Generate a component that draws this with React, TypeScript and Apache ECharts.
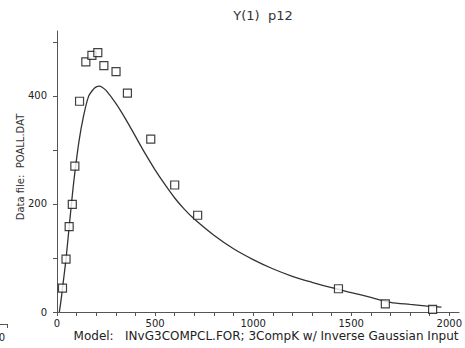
import React, { useEffect, useRef } from "react";
import * as echarts from "echarts";

// Observed concentrations (time, Y(1))
const obsTime = [28, 46, 62, 78, 91, 115, 147, 178, 208, 239, 301, 359, 478, 600, 717, 1435, 1674, 1915];
const obsValue = [44, 98, 158, 199, 270, 390, 463, 475, 480, 456, 445, 405, 320, 235, 179, 43, 15, 5];

// Fitted model curve (time, Y(1))
const fitTime = [12, 20, 30, 45, 60, 75, 90, 113, 135, 161, 185, 200, 215, 230, 250, 300, 350, 400, 450, 500, 550, 600, 650, 700, 800, 900, 1000, 1100, 1200, 1300, 1400, 1500, 1600, 1700, 1800, 1900, 1960];
const fitValue = [0, 20, 50, 95, 150, 205, 255, 318, 362, 399, 412, 416.5, 418, 416, 410, 386, 357, 325, 293, 263, 236, 211, 190, 172, 142, 117, 97, 80, 66, 55, 45, 36, 27, 18, 14, 10.5, 9];

const xTicks = [0, 100, 200, 300, 400, 500, 600, 700, 800, 900, 1000, 1100, 1200, 1300, 1400, 1500, 1600, 1700, 1800, 1900, 2000];
const xTickLabels = [0, 500, 1000, 1500, 2000];
const yTicks = [0, 100, 200, 300, 400, 500];
const yTickLabels = [0, 200, 400];

const FONT = "DejaVu Sans";
const NB = "\u00a0";

export default function App() {
  const ref = useRef<HTMLDivElement>(null);

  useEffect(() => {
    if (!ref.current) return;
    const chart = echarts.init(ref.current, undefined, { renderer: "svg" });
    chart.setOption({
      animation: false,
      backgroundColor: "#ffffff",
      grid: { left: 57, right: 5, top: 31, bottom: 36, containLabel: false },
      xAxis: {
        type: "value",
        min: 0,
        max: 2050,
        interval: 100,
        axisLine: { lineStyle: { color: "#555", width: 1 } },
        axisTick: { customValues: xTicks, length: 4, lineStyle: { color: "#555" } },
        axisLabel: {
          customValues: xTickLabels,
          formatter: (v: number) => String(v),
          margin: 6,
          color: "#222",
          fontFamily: FONT,
          fontSize: 10,
        },
        splitLine: { show: false },
      },
      yAxis: {
        type: "value",
        min: 0,
        max: 520,
        interval: 100,
        axisLine: { show: true, lineStyle: { color: "#555", width: 1 } },
        axisTick: { show: true, customValues: yTicks, length: 4, lineStyle: { color: "#555" } },
        axisLabel: {
          customValues: yTickLabels,
          formatter: (v: number) => String(v),
          margin: 10,
          color: "#222",
          fontFamily: FONT,
          fontSize: 10,
        },
        splitLine: { show: false },
      },
      series: [
        {
          type: "line",
          data: fitTime.map((t, i) => [t, fitValue[i]]),
          smooth: 0.3,
          symbol: "none",
          lineStyle: { color: "#333", width: 1.3 },
          z: 2,
        },
        {
          type: "scatter",
          data: obsTime.map((t, i) => [t, obsValue[i]]),
          symbol: "rect",
          symbolSize: 8,
          itemStyle: { color: "#fff", borderColor: "#111", borderWidth: 1.2 },
          z: 3,
        },
      ],
      graphic: [
        {
          type: "text",
          x: 263,
          y: 15,
          style: {
            text: "Y(1)" + NB + NB + "p12",
            font: `13px "${FONT}"`,
            fill: "#333",
            textAlign: "center",
            textVerticalAlign: "middle",
          },
        },
        {
          type: "text",
          x: 20,
          y: 167,
          rotation: Math.PI / 2,
          style: {
            text: "Data" + NB + "file:" + NB + NB + "POALL.DAT",
            font: `10px "${FONT}"`,
            fill: "#333",
            textAlign: "center",
            textVerticalAlign: "middle",
          },
        },
        {
          type: "text",
          x: 266,
          y: 336,
          style: {
            text: "Model:" + NB + NB + NB + "INvG3COMPCL.FOR;" + NB + "3CompK" + NB + "w/" + NB + "Inverse" + NB + "Gaussian" + NB + "Input",
            font: `12px "${FONT}"`,
            fill: "#222",
            textAlign: "center",
            textVerticalAlign: "middle",
          },
        },
        {
          type: "line",
          shape: { x1: 0, y1: 324.5, x2: 8, y2: 324.5 },
          style: { stroke: "#555", lineWidth: 1 },
        },
        {
          type: "line",
          shape: { x1: 7.5, y1: 324.5, x2: 7.5, y2: 328 },
          style: { stroke: "#555", lineWidth: 1 },
        },
        {
          type: "text",
          x: 2,
          y: 337,
          style: {
            text: "0",
            font: `10px "${FONT}"`,
            fill: "#222",
            textAlign: "center",
            textVerticalAlign: "middle",
          },
        },
      ],
    });
    return () => chart.dispose();
  }, []);

  return (
    <div
      ref={ref}
      style={{ position: "absolute", left: 0, top: 0, width: 465, height: 348 }}
    />
  );
}
